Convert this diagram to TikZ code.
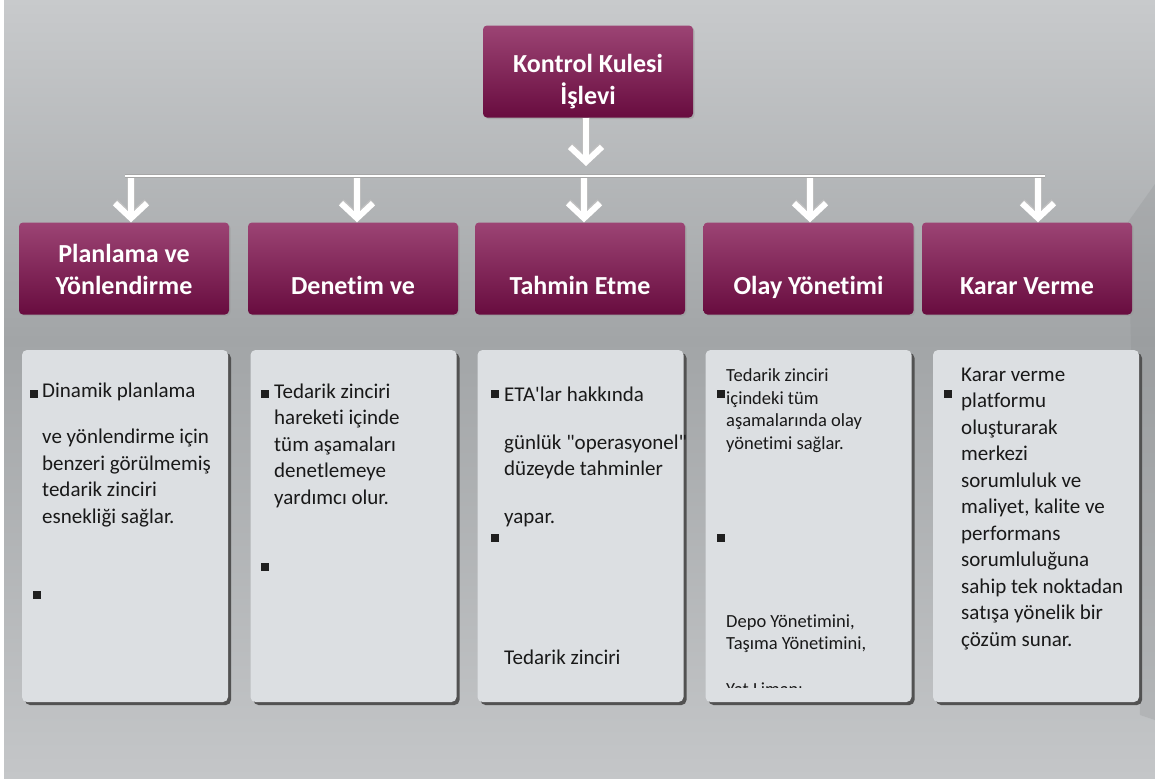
\documentclass[tikz,border=0pt]{standalone}
\usepackage{fontspec}
\setmainfont{Carlito}[Ligatures={TeXOff,NoCommon}]
\usetikzlibrary{arrows.meta,shadows,positioning}

\definecolor{prune}{HTML}{9C4474}
\definecolor{pruneF}{HTML}{680C3F}
\definecolor{cartegris}{HTML}{DCDFE2}
\definecolor{fondA}{HTML}{C8CACC}
\definecolor{fondB}{HTML}{A2A5A7}
\definecolor{fondC}{HTML}{C4C6C8}

\begin{document}
\begin{tikzpicture}[x=1pt,y=-1pt]
  %% fond
  \useasboundingbox (0,0) rectangle (1155,782);
  \fill[white] (0,0) rectangle (1155,782);
  \fill[top color=fondA, bottom color=fondB] (4,0) rectangle (1155,340);
  \fill[top color=fondB, bottom color=fondC] (4,340) rectangle (1155,778);
  \fill[fondB!80!black, opacity=.2] (1128,222) -- (1155,184) -- (1155,720) -- (1140,715) -- cycle;

  \tikzstyle{every node}=[inner sep=0pt]
  \tikzstyle{titre}=[rounded corners=4pt, top color=prune, bottom color=pruneF,
    minimum width=210pt, minimum height=92pt,
    drop shadow={shadow xshift=1.5pt, shadow yshift=-1.5pt, fill=black!40, opacity=.5}]
  \tikzstyle{titretxt}=[text=white, font=\fontsize{26}{32.5}\selectfont\bfseries, align=center, anchor=base]
  \tikzstyle{carte}=[fill=cartegris, rounded corners=5pt, minimum width=206pt, minimum height=352pt,
    drop shadow={shadow xshift=3pt, shadow yshift=-3pt, fill=black!68, opacity=1}]
  \tikzstyle{texte}=[font=\fontsize{21}{26.5}\selectfont, align=left, anchor=base west, text=black!90]
  \tikzstyle{petit}=[font=\fontsize{18.5}{22.5}\selectfont, align=left, anchor=base west, text=black!90]
  \tikzstyle{puce}=[fill=black!88, minimum size=8pt]
  \tikzstyle{fleche}=[draw=white, line width=6pt, -{Straight Barb[length=15pt,width=32pt]},
    preaction={draw=black!25, line width=7.5pt}]
  \tikzstyle{bus}=[draw=black!35, double=white, double distance=2.4pt, line width=0.6pt]

  % sommet
  \node[titre] (top) at (588,71.5) {};
  \node[titretxt] (topt) at (588,104.5) {Kontrol Kulesi\\İşlevi};

  % titres
  \foreach \x/\n in {124/1, 353/2, 580/3, 808.5/4, 1027/5} {
    \node[titre] (h\n) at (\x,268.5) {};
  }
  \node[titretxt] (t1) at (124,294.5) {Planlama ve\\Yönlendirme};
  \node[titretxt] (t2) at (353,294.5) {Denetim ve};
  \node[titretxt] (t3) at (580,294.5) {Tahmin Etme};
  \node[titretxt] (t4) at (808.5,294.5) {Olay Yönetimi};
  \node[titretxt] (t5) at (1027,294.5) {Karar Verme};

  % fleches
  \coordinate (hub) at (586,166);
  \draw[fleche] (top.south -| hub) -- (hub);
  \foreach \x [count=\i] in {131,357,584,810,1038} {
    \coordinate (b\i) at (\x,176);
    \draw[fleche] (b\i) -- (b\i |- h\i.north);
  }
  \coordinate (bg) at (125,176);
  \coordinate (bd) at (1045,176);
  \draw[bus] (bg) -- (bd);

  % cartes
  \foreach \x/\n in {125/1, 353.5/2, 580.5/3, 808.5/4, 1036/5} {
    \node[carte] (c\n) at (\x,526) {};
  }

  % premiere carte
  \node[puce] (p1a) at (34,394) {};
  \node[puce] (p1b) at (37,595) {};
  \node[texte] (x1) at (42,523) {Dinamik planlama\\[20pt]ve yönlendirme için\\benzeri görülmemiş\\tedarik zinciri\\esnekliği sağlar.};

  % deuxieme carte
  \node[puce] (p2a) at (264.5,394) {};
  \node[puce] (p2b) at (264.5,567) {};
  \node[texte] (x2) at (274,504) {Tedarik zinciri\\hareketi içinde\\tüm aşamaları\\denetlemeye\\yardımcı olur.};

  % troisieme carte
  \node[puce] (p3a) at (495,394) {};
  \node[puce] (p3b) at (495,537.5) {};
  \node[texte] (x3) at (504,523) {ETA'lar hakkında\\[21pt]günlük "operasyonel"\\düzeyde tahminler\\[21pt]yapar.};
  \node[texte] (x3b) at (504,664) {Tedarik zinciri};

  % quatrieme carte
  \node[puce] (p4a) at (720.5,394) {};
  \node[puce] (p4b) at (720.5,537.5) {};
  \node[petit] (x4) at (726,449) {Tedarik zinciri\\içindeki tüm\\aşamalarında olay\\yönetimi sağlar.};
  \begin{scope}
    \clip (706,600) rectangle (911,687);
    \node[petit] (x4b) at (726,695) {Depo Yönetimini,\\Taşıma Yönetimini,\\[23pt]Yat Limanı};
  \end{scope}

  % cinquieme carte
  \node[puce] (p5a) at (947.5,393.5) {};
  \node[texte] (x5) at (961,646) {Karar verme\\platformu\\oluşturarak\\merkezi\\sorumluluk ve\\maliyet, kalite ve\\performans\\sorumluluğuna\\sahip tek noktadan\\satışa yönelik bir\\çözüm sunar.};
\end{tikzpicture}
\end{document}
